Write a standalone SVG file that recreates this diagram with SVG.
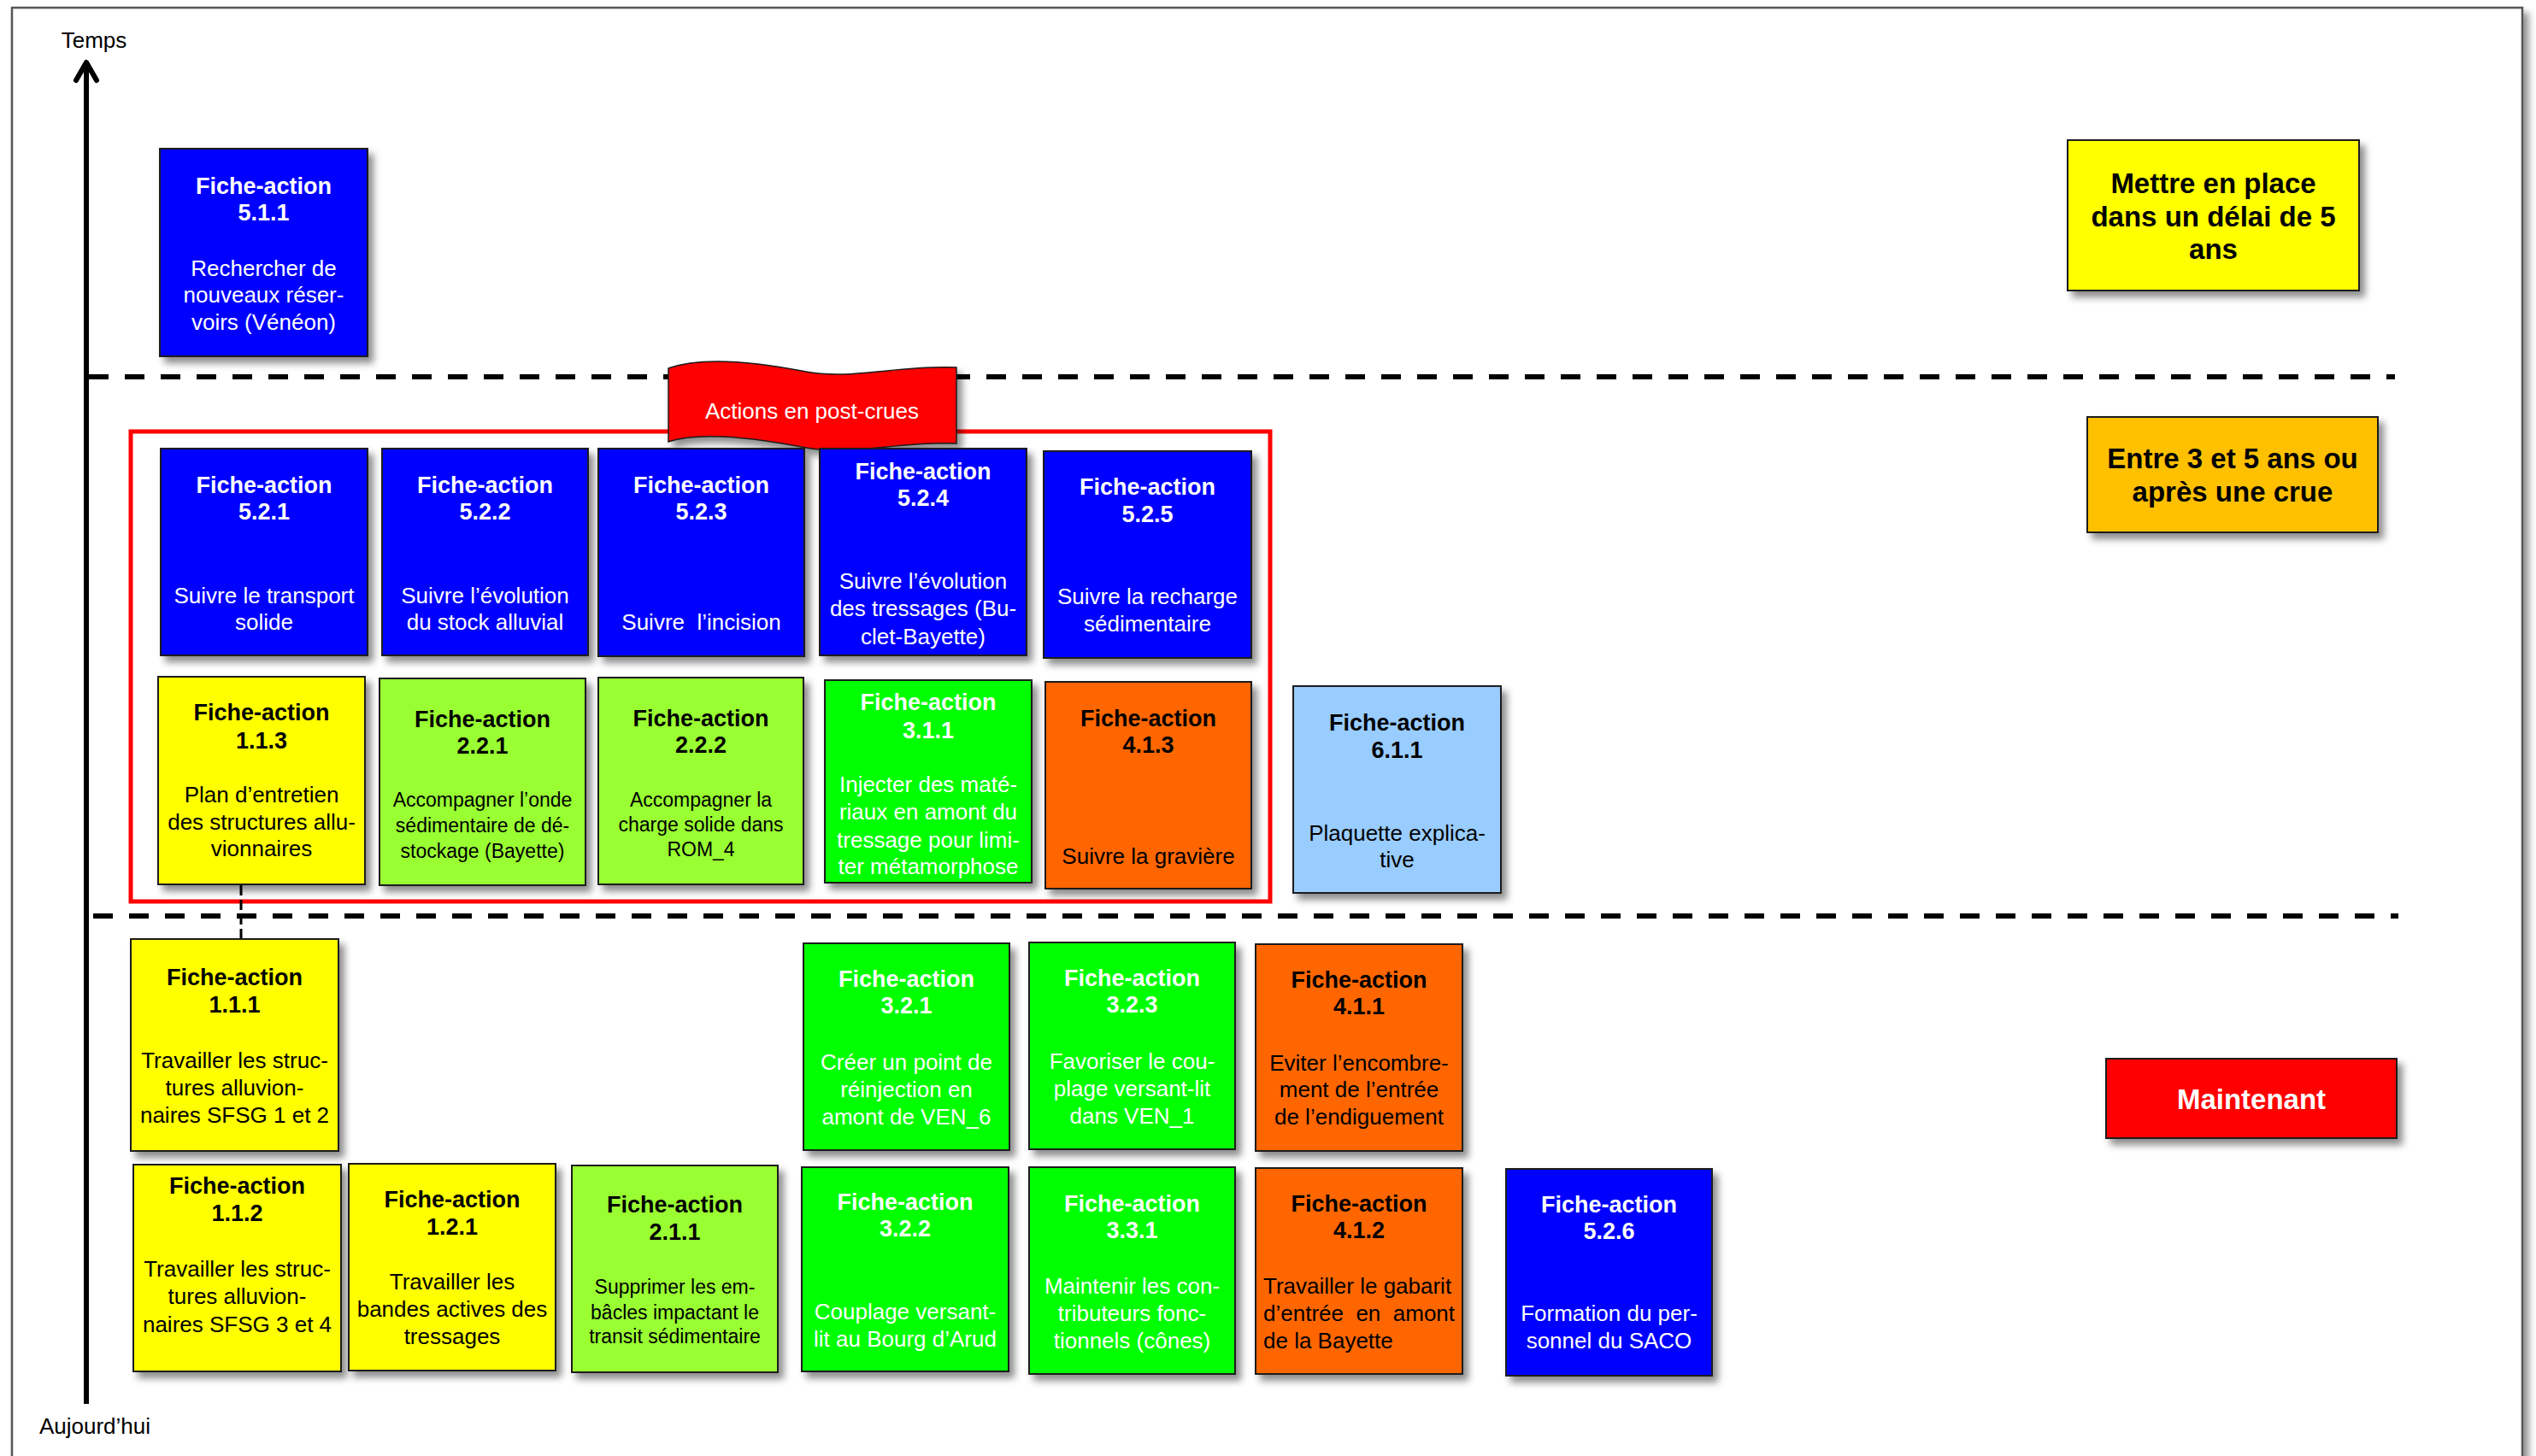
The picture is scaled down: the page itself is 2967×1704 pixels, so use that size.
<svg xmlns="http://www.w3.org/2000/svg" width="2967" height="1704" viewBox="0 0 2967 1704">
<defs>
<style>
.box{stroke:#1a1a1a;stroke-width:2;filter:url(#sh)}
.t{font-family:"Liberation Sans",Arial,sans-serif;text-anchor:middle}
.h{font-weight:bold;font-size:27px}
.b{font-size:26px}
.s{font-size:23px}
.lg{font-weight:bold;font-size:33px}
.w{fill:#fff}
.k{fill:#000}
.blue{fill:#0000FF}
.yel{fill:#FFFF00}
.lgr{fill:#99FF33}
.grn{fill:#00FF00}
.org{fill:#FF6600}
.lbl{fill:#99CCFF}
.red{fill:#FF0000}
.amb{fill:#FFC000}
.dash{stroke:#000;stroke-width:6;stroke-dasharray:23 19;fill:none}
</style>
<filter id="sh" x="-10%" y="-10%" width="130%" height="130%">
<feDropShadow dx="6" dy="7" stdDeviation="4" flood-color="#000" flood-opacity="0.45"/>
</filter>
<marker id="arr" viewBox="0 0 32 32" markerWidth="32" markerHeight="32" refX="26" refY="16" markerUnits="userSpaceOnUse" orient="auto">
<polyline points="5,4 26,16 5,28" fill="none" stroke="#000" stroke-width="6" stroke-linecap="round" stroke-linejoin="round"/>
</marker>
<clipPath id="c311"><rect x="966" y="797" width="240" height="232"/></clipPath>
</defs>

<rect id="frame" x="14" y="9" width="2937" height="1720" fill="#fff" stroke="#555" stroke-width="2.5" filter="url(#sh)"/>

<g id="axis">
<line x1="101" y1="1643" x2="101" y2="73" stroke="#000" stroke-width="6" marker-end="url(#arr)"/>
<text class="t b k" x="110" y="56">Temps</text>
<text class="t b k" x="111" y="1678">Aujourd’hui</text>
</g>

<g id="separators">
<line class="dash" x1="104" y1="441" x2="2802" y2="441"/>
<line class="dash" x1="109" y1="1072" x2="2806" y2="1072"/>
</g>

<g id="postcrues-frame">
<rect x="153" y="505" width="1333" height="550" fill="none" stroke="#FF0000" stroke-width="5"/>
</g>

<g id="connectors">
<line x1="282" y1="1036" x2="282" y2="1099" stroke="#000" stroke-width="3" stroke-dasharray="12 5"/>
</g>

<g id="flag">
<path d="M782,431 C815,419 872,421 943,435 C995,445 1052,427 1119,430 L1119,519 C1052,516 995,534 943,524 C872,510 815,506 782,517 Z" fill="#FF0000" stroke="#1a1a1a" stroke-width="1.5" filter="url(#sh)"/>
<text class="t b w" x="950" y="490">Actions en post-crues</text>
</g>

<g id="fa511">
<rect class="box blue" x="187" y="174" width="243" height="243"/>
<text class="t h w" x="308.5" y="227">Fiche-action</text>
<text class="t h w" x="308.5" y="258">5.1.1</text>
<text class="t b w" x="308.5" y="323">Rechercher de</text>
<text class="t b w" x="308.5" y="354">nouveaux réser-</text>
<text class="t b w" x="308.5" y="386">voirs (Vénéon)</text>
</g>

<g id="fa521">
<rect class="box blue" x="188" y="525" width="242" height="242"/>
<text class="t h w" x="309" y="577">Fiche-action</text>
<text class="t h w" x="309" y="608">5.2.1</text>
<text class="t b w" x="309" y="706">Suivre le transport</text>
<text class="t b w" x="309" y="737">solide</text>
</g>

<g id="fa522">
<rect class="box blue" x="447" y="525" width="241" height="242"/>
<text class="t h w" x="567.5" y="577">Fiche-action</text>
<text class="t h w" x="567.5" y="608">5.2.2</text>
<text class="t b w" x="567.5" y="706">Suivre l’évolution</text>
<text class="t b w" x="567.5" y="737">du stock alluvial</text>
</g>

<g id="fa523">
<rect class="box blue" x="700" y="525" width="241" height="243"/>
<text class="t h w" x="820.5" y="577">Fiche-action</text>
<text class="t h w" x="820.5" y="608">5.2.3</text>
<text class="t b w" x="820.5" y="737" style="white-space:pre">Suivre  l’incision</text>
</g>

<g id="fa524">
<rect class="box blue" x="959" y="525" width="242" height="242"/>
<text class="t h w" x="1080" y="561">Fiche-action</text>
<text class="t h w" x="1080" y="592">5.2.4</text>
<text class="t b w" x="1080" y="689">Suivre l’évolution</text>
<text class="t b w" x="1080" y="721">des tressages (Bu-</text>
<text class="t b w" x="1080" y="754">clet-Bayette)</text>
</g>

<g id="fa525">
<rect class="box blue" x="1221" y="528" width="243" height="242"/>
<text class="t h w" x="1342.5" y="579">Fiche-action</text>
<text class="t h w" x="1342.5" y="611">5.2.5</text>
<text class="t b w" x="1342.5" y="707">Suivre la recharge</text>
<text class="t b w" x="1342.5" y="739">sédimentaire</text>
</g>

<g id="fa113">
<rect class="box yel" x="185" y="792" width="242" height="243"/>
<text class="t h k" x="306" y="843">Fiche-action</text>
<text class="t h k" x="306" y="876">1.1.3</text>
<text class="t b k" x="306" y="939">Plan d’entretien</text>
<text class="t b k" x="306" y="971">des structures allu-</text>
<text class="t b k" x="306" y="1002">vionnaires</text>
</g>

<g id="fa221">
<rect class="box lgr" x="444" y="794" width="241" height="242"/>
<text class="t h k" x="564.5" y="851">Fiche-action</text>
<text class="t h k" x="564.5" y="882">2.2.1</text>
<text class="t s k" x="564.5" y="944">Accompagner l’onde</text>
<text class="t s k" x="564.5" y="974">sédimentaire de dé-</text>
<text class="t s k" x="564.5" y="1004">stockage (Bayette)</text>
</g>

<g id="fa222">
<rect class="box lgr" x="700" y="793" width="240" height="242"/>
<text class="t h k" x="820" y="850">Fiche-action</text>
<text class="t h k" x="820" y="881">2.2.2</text>
<text class="t s k" x="820" y="944">Accompagner la</text>
<text class="t s k" x="820" y="973">charge solide dans</text>
<text class="t s k" x="820" y="1002">ROM_4</text>
</g>

<g id="fa311">
<rect class="box grn" x="965" y="796" width="242" height="237"/>
<g clip-path="url(#c311)">
<text class="t h w" x="1086" y="831">Fiche-action</text>
<text class="t h w" x="1086" y="864">3.1.1</text>
<text class="t b w" x="1086" y="927">Injecter des maté-</text>
<text class="t b w" x="1086" y="959">riaux en amont du</text>
<text class="t b w" x="1086" y="992">tressage pour limi-</text>
<text class="t b w" x="1086" y="1023">ter métamorphose</text>
</g>
</g>

<g id="fa413">
<rect class="box org" x="1223" y="798" width="241" height="242"/>
<text class="t h k" x="1343.5" y="850">Fiche-action</text>
<text class="t h k" x="1343.5" y="881">4.1.3</text>
<text class="t b k" x="1343.5" y="1011">Suivre la gravière</text>
</g>

<g id="fa611">
<rect class="box lbl" x="1513" y="803" width="243" height="242"/>
<text class="t h k" x="1634.5" y="855">Fiche-action</text>
<text class="t h k" x="1634.5" y="887">6.1.1</text>
<text class="t b k" x="1634.5" y="984">Plaquette explica-</text>
<text class="t b k" x="1634.5" y="1015">tive</text>
</g>

<g id="fa111">
<rect class="box yel" x="153" y="1099" width="243" height="248"/>
<text class="t h k" x="274.5" y="1153">Fiche-action</text>
<text class="t h k" x="274.5" y="1185">1.1.1</text>
<text class="t b k" x="274.5" y="1250">Travailler les struc-</text>
<text class="t b k" x="274.5" y="1282">tures alluvion-</text>
<text class="t b k" x="274.5" y="1314">naires SFSG 1 et 2</text>
</g>

<g id="fa321">
<rect class="box grn" x="940" y="1104" width="241" height="242"/>
<text class="t h w" x="1060.5" y="1155">Fiche-action</text>
<text class="t h w" x="1060.5" y="1186">3.2.1</text>
<text class="t b w" x="1060.5" y="1252">Créer un point de</text>
<text class="t b w" x="1060.5" y="1284">réinjection en</text>
<text class="t b w" x="1060.5" y="1316">amont de VEN_6</text>
</g>

<g id="fa323">
<rect class="box grn" x="1204" y="1103" width="241" height="242"/>
<text class="t h w" x="1324.5" y="1154">Fiche-action</text>
<text class="t h w" x="1324.5" y="1185">3.2.3</text>
<text class="t b w" x="1324.5" y="1251">Favoriser le cou-</text>
<text class="t b w" x="1324.5" y="1283">plage versant-lit</text>
<text class="t b w" x="1324.5" y="1315">dans VEN_1</text>
</g>

<g id="fa411">
<rect class="box org" x="1469" y="1105" width="242" height="242"/>
<text class="t h k" x="1590" y="1156">Fiche-action</text>
<text class="t h k" x="1590" y="1187">4.1.1</text>
<text class="t b k" x="1590" y="1253">Eviter l’encombre-</text>
<text class="t b k" x="1590" y="1284">ment de l’entrée</text>
<text class="t b k" x="1590" y="1316">de l’endiguement</text>
</g>

<g id="fa112">
<rect class="box yel" x="156" y="1363" width="243" height="242"/>
<text class="t h k" x="277.5" y="1397">Fiche-action</text>
<text class="t h k" x="277.5" y="1429">1.1.2</text>
<text class="t b k" x="277.5" y="1494">Travailler les struc-</text>
<text class="t b k" x="277.5" y="1526">tures alluvion-</text>
<text class="t b k" x="277.5" y="1559">naires SFSG 3 et 4</text>
</g>

<g id="fa121">
<rect class="box yel" x="408" y="1362" width="242" height="242"/>
<text class="t h k" x="529" y="1413">Fiche-action</text>
<text class="t h k" x="529" y="1445">1.2.1</text>
<text class="t b k" x="529" y="1509">Travailler les</text>
<text class="t b k" x="529" y="1541">bandes actives des</text>
<text class="t b k" x="529" y="1573">tressages</text>
</g>

<g id="fa211">
<rect class="box lgr" x="669" y="1364" width="241" height="242"/>
<text class="t h k" x="789.5" y="1419">Fiche-action</text>
<text class="t h k" x="789.5" y="1451">2.1.1</text>
<text class="t s k" x="789.5" y="1514">Supprimer les em-</text>
<text class="t s k" x="789.5" y="1544">bâcles impactant le</text>
<text class="t s k" x="789.5" y="1572">transit sédimentaire</text>
</g>

<g id="fa322">
<rect class="box grn" x="938" y="1366" width="242" height="239"/>
<text class="t h w" x="1059" y="1416">Fiche-action</text>
<text class="t h w" x="1059" y="1447">3.2.2</text>
<text class="t b w" x="1059" y="1544">Couplage versant-</text>
<text class="t b w" x="1059" y="1576">lit au Bourg d’Arud</text>
</g>

<g id="fa331">
<rect class="box grn" x="1204" y="1366" width="241" height="242"/>
<text class="t h w" x="1324.5" y="1418">Fiche-action</text>
<text class="t h w" x="1324.5" y="1449">3.3.1</text>
<text class="t b w" x="1324.5" y="1514">Maintenir les con-</text>
<text class="t b w" x="1324.5" y="1546">tributeurs fonc-</text>
<text class="t b w" x="1324.5" y="1578">tionnels (cônes)</text>
</g>

<g id="fa412">
<rect class="box org" x="1469" y="1367" width="242" height="241"/>
<text class="t h k" x="1590" y="1418">Fiche-action</text>
<text class="t h k" x="1590" y="1449">4.1.2</text>
<text class="t b k" x="1478" y="1514" style="text-anchor:start">Travailler le gabarit</text>
<text class="t b k" x="1478" y="1546" style="text-anchor:start;white-space:pre">d’entrée  en  amont</text>
<text class="t b k" x="1478" y="1578" style="text-anchor:start">de la Bayette</text>
</g>

<g id="fa526">
<rect class="box blue" x="1762" y="1368" width="241" height="242"/>
<text class="t h w" x="1882.5" y="1419">Fiche-action</text>
<text class="t h w" x="1882.5" y="1450">5.2.6</text>
<text class="t b w" x="1882.5" y="1546">Formation du per-</text>
<text class="t b w" x="1882.5" y="1578">sonnel du SACO</text>
</g>

<g id="legend-5ans">
<rect class="box yel" x="2419" y="164" width="341" height="176"/>
<text class="t lg k" x="2589.5" y="226">Mettre en place</text>
<text class="t lg k" x="2589.5" y="265">dans un délai de 5</text>
<text class="t lg k" x="2589.5" y="303">ans</text>
</g>

<g id="legend-3-5ans">
<rect class="box amb" x="2442" y="488" width="340" height="135"/>
<text class="t lg k" x="2612" y="548">Entre 3 et 5 ans ou</text>
<text class="t lg k" x="2612" y="587">après une crue</text>
</g>

<g id="legend-maintenant">
<rect class="box red" x="2464" y="1239" width="340" height="93"/>
<text class="t lg w" x="2634" y="1298">Maintenant</text>
</g>
</svg>
